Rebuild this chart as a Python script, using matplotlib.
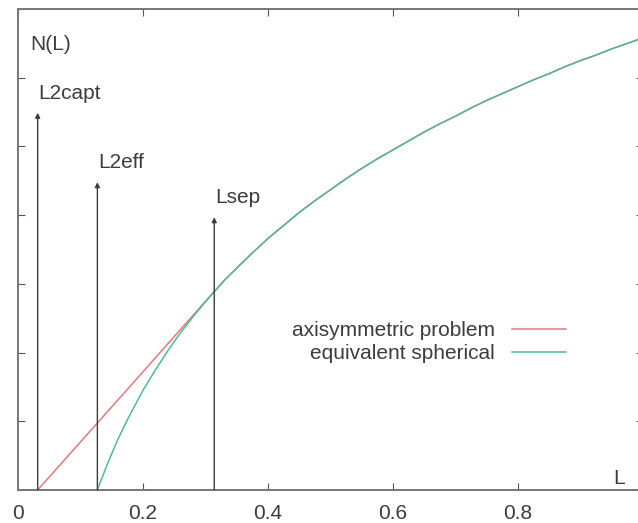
import matplotlib
matplotlib.use('Agg')
import matplotlib.pyplot as plt
from matplotlib.ticker import FuncFormatter

plt.rcParams['font.family'] = ['Liberation Sans', 'DejaVu Sans']

# 读图估计的数据
L_axi = [0.0315, 0.10, 0.20, 0.314, 0.33, 0.35, 0.375, 0.40, 0.425, 0.45, 0.475, 0.50, 0.525, 0.55, 0.575,
         0.60, 0.625, 0.65, 0.675, 0.70, 0.725, 0.75, 0.775, 0.80, 0.825, 0.85, 0.875, 0.90, 0.925,
         0.95, 0.975, 1.00]
N_axi = [0.0, 0.70, 1.72, 2.89, 3.05, 3.23, 3.45, 3.66, 3.85, 4.04, 4.21, 4.37, 4.53, 4.68, 4.82,
         4.95, 5.08, 5.21, 5.33, 5.44, 5.56, 5.67, 5.77, 5.87, 5.97, 6.06, 6.16, 6.25, 6.33,
         6.42, 6.50, 6.58]

L_sph = [0.127, 0.131, 0.135, 0.14, 0.15, 0.16, 0.17, 0.18, 0.20, 0.22, 0.24, 0.26, 0.28, 0.30, 0.33,
         0.35, 0.375, 0.40, 0.425, 0.45, 0.475, 0.50, 0.525, 0.55, 0.575,
         0.60, 0.625, 0.65, 0.675, 0.70, 0.725, 0.75, 0.775, 0.80, 0.825, 0.85, 0.875, 0.90, 0.925,
         0.95, 0.975, 1.00]
N_sph = [0.0, 0.10, 0.19, 0.31, 0.53, 0.74, 0.93, 1.11, 1.45, 1.75, 2.03, 2.29, 2.52, 2.74, 3.05,
         3.23, 3.45, 3.66, 3.85, 4.04, 4.21, 4.37, 4.53, 4.68, 4.82,
         4.95, 5.08, 5.21, 5.33, 5.44, 5.56, 5.67, 5.77, 5.87, 5.97, 6.06, 6.16, 6.25, 6.33,
         6.42, 6.50, 6.58]

arrow_names = ['L2capt', 'L2eff', 'Lsep']
arrow_L = [0.0315, 0.127, 0.314]
arrow_top = [5.49, 4.48, 3.97]

x_ticks = [0, 0.2, 0.4, 0.6, 0.8, 1.0]
y_ticks = [0, 1, 2, 3, 4, 5, 6, 7]

W, H = 638, 523
fig = plt.figure(figsize=(W / 100, H / 100), dpi=100)
ax = fig.add_axes([18 / W, 33 / H, 625 / W, 481 / H])

ax.plot(L_axi, N_axi, color='#e8787a', lw=1.1, label='axisymmetric problem')
ax.plot(L_sph, N_sph, color='#4dbb94', lw=1.1, label='equivalent spherical')

grey = '#3c3c3c'
for name, x, top in zip(arrow_names, arrow_L, arrow_top):
    ax.annotate('', xy=(x, top), xytext=(x, 0),
                arrowprops=dict(arrowstyle='-|>', color=grey, lw=1.0, mutation_scale=7,
                                shrinkA=0, shrinkB=0))
    ax.text(x + 0.001, top + 0.28, name, fontsize=15, color=grey, ha='left', va='center')

ax.text(0.019, 6.48, 'N(L)', fontsize=15, color=grey, ha='left', va='center')
ax.text(0.952, 0.17, 'L', fontsize=15, color=grey, ha='left', va='center')

ax.set_xlim(0, 1)
ax.set_ylim(0, 7)
ax.set_xticks(x_ticks)
ax.set_yticks(y_ticks)
ax.xaxis.set_major_formatter(FuncFormatter(lambda v, p: '%g' % v))
ax.set_yticklabels([])
ax.tick_params(direction='in', length=5, width=0.8, color='#555555',
               top=True, right=True, labelsize=15, labelcolor=grey)
ax.tick_params(axis='x', pad=10)
for s in ax.spines.values():
    s.set_color('#777777')
    s.set_linewidth(1.4)

leg = ax.legend(loc='center right', bbox_to_anchor=(566 / W, 1 - 342 / H),
                bbox_transform=fig.transFigure, frameon=False, markerfirst=False,
                fontsize=15, handlelength=2.6, handletextpad=0.8, labelspacing=0.2,
                borderpad=0, borderaxespad=0)
for t in leg.get_texts():
    t.set_color(grey)

fig.savefig('out.png', dpi=100)
